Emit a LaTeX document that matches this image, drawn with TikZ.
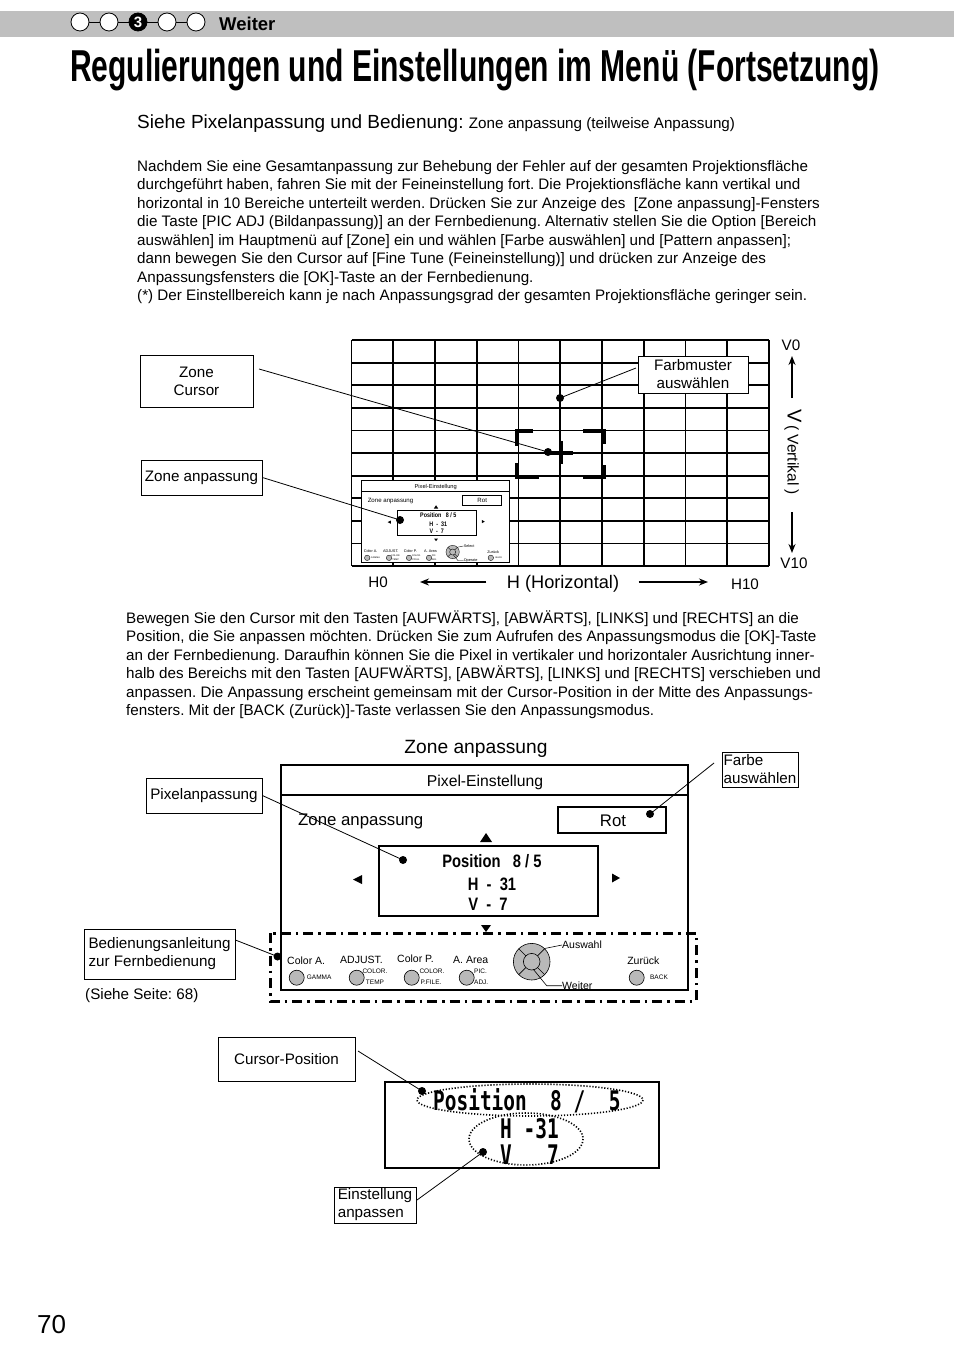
\documentclass[tikz,border=0pt]{standalone}
\usepackage{fontspec}
\usepackage{graphicx}
\setmainfont{Liberation Sans}
\newfontfamily\monof{DejaVu Sans Mono}
\usetikzlibrary{arrows.meta}
\frenchspacing

\newcommand\fs[1]{\fontsize{#1}{#1}\selectfont}
\newcommand\nb[1]{\scalebox{0.82}[1]{\fs{18}\bfseries #1}}
\newcommand\mono[1]{\scalebox{0.72}[1]{\fs{27}\monof\bfseries #1}}

\newcommand\menubody[3]{%
  \draw[mthick] (0,0) rectangle (407,225);
  \draw[mthick] (0,30) -- (407,30);
  \node[font=\fs{15.7}] (#1title) at (204,17) {Pixel-Einstellung};
  \node[anchor=base west, inner sep=0, font=\fs{16.8}] (#1zone) at (17,60) {Zone anpassung};
  \draw[mmid] (277,42) rectangle (385,68);
  \node[font=\fs{16.8}] (#1rot) at (332,56) {Rot};
  \fill (199,77) -- (211,77) -- (205,68) -- cycle;
  \draw[mmid] (98,81) rectangle (317,151);
  \node[anchor=base, inner sep=0] (#1pa) at (211,102.5) {\nb{Position\ \ \ 8 / 5}};
  \node[anchor=base, inner sep=0] (#1pb) at (211,125.5) {\nb{H\ \ -\ \ 31}};
  \node[anchor=base, inner sep=0] (#1pc) at (207,145.5) {\nb{V\ \ -\ \ 7}};
  \fill (72,114.5) -- (81,110) -- (81,119) -- cycle;
  \fill (339,113) -- (331,108.5) -- (331,117.5) -- cycle;
  \fill (200,160) -- (210,160) -- (205,167) -- cycle;
  \node[anchor=base west, inner sep=0, font=\fs{10.5}] (#1la) at (6,199) {Color A.};
  \node[anchor=base west, inner sep=0, font=\fs{10.5}] (#1lb) at (59,198.5) {ADJUST.};
  \node[anchor=base west, inner sep=0, font=\fs{10.5}] (#1lc) at (116,197.5) {Color P.};
  \node[anchor=base west, inner sep=0, font=\fs{10.5}] (#1ld) at (172,198.5) {A. Area};
  \filldraw[fill=gray!55, mthin] (15.7,212.7) circle (7.5);
  \filldraw[fill=gray!55, mthin] (75.7,212.7) circle (7.5);
  \filldraw[fill=gray!55, mthin] (130.7,212.7) circle (7.5);
  \filldraw[fill=gray!55, mthin] (185.7,212.7) circle (7.5);
  \filldraw[fill=gray!55, mthin] (355.7,212.7) circle (7.5);
  \node[anchor=west, inner sep=0, font=\fs{6.5}] (#1sa) at (25.7,212.7) {GAMMA};
  \node[inner sep=0, font=\fs{6.5}] (#1sb) at (94,206.7) {COLOR.};
  \node[inner sep=0, font=\fs{6.5}] (#1sc) at (94,217.5) {TEMP};
  \node[inner sep=0, font=\fs{6.5}] (#1sd) at (151,206.7) {COLOR.};
  \node[inner sep=0, font=\fs{6.5}] (#1se) at (150,217.5) {P.FILE.};
  \node[anchor=west, inner sep=0, font=\fs{6.5}] (#1sf) at (193,206.7) {PIC.};
  \node[anchor=west, inner sep=0, font=\fs{6.5}] (#1sg) at (193,217.5) {ADJ.};
  \filldraw[fill=gray!55, mthin] (250.7,196.7) circle (18.3);
  \draw[mthin] (250.7,196.7) circle (8.3);
  \draw[mthin] (250.7,196.7) ++(45:8.3) -- ++(45:10);
  \draw[mthin] (250.7,196.7) ++(135:8.3) -- ++(135:10);
  \draw[mthin] (250.7,196.7) ++(225:8.3) -- ++(225:10);
  \draw[mthin] (250.7,196.7) ++(315:8.3) -- ++(315:10);
  \node[anchor=west, inner sep=0, font=\fs{10.5}] (#1sel) at (281,180) {#2};
  \node[anchor=west, inner sep=0, font=\fs{10.5}] (#1op) at (281,220.7) {#3};
  \draw[mthin] (263.5,183.5) -- (#1sel.west);
  \draw[mthin] (252.3,204.3) -- (265.7,220.7) -- (#1op.west);
  \node[inner sep=0, font=\fs{10.5}] (#1zu) at (362.3,196) {Zurück};
  \node[inner sep=0, font=\fs{6.5}] (#1bk) at (378,212) {BACK};
}

\tikzset{
  lbl/.style={draw, line width=0.8pt, inner sep=1pt, font=\fontsize{15.2}{18}\selectfont, align=center},
  conn/.style={line width=0.8pt},
  body/.style={anchor=base west, inner sep=0, font=\fs{15.2}},
  gridl/.style={line width=1.8pt},
  mthick/.style={line width=2pt},
  mmid/.style={line width=1.6pt},
  mthin/.style={line width=0.6pt},
}

\begin{document}
\begin{tikzpicture}[x=1pt,y=-1pt]
\useasboundingbox (0,0) rectangle (954,1356);
\fill[white] (0,0) rectangle (954,1356);

% header bar
\fill[gray!50] (0,11) rectangle (954,37);
\draw[line width=0.8pt] (80,22) -- (196,22);
\filldraw[fill=white, line width=0.8pt] (80,22) circle (9);
\filldraw[fill=white, line width=0.8pt] (109,22) circle (9);
\filldraw[fill=black, line width=0.8pt] (138,22) circle (9);
\filldraw[fill=white, line width=0.8pt] (167,22) circle (9);
\filldraw[fill=white, line width=0.8pt] (196,22) circle (9);
\node[text=white, font=\fs{15}\bfseries, inner sep=0] (hnum) at (138,22.5) {3};
\node[anchor=base west, inner sep=0, font=\fs{18.5}\bfseries] (hweiter) at (219,30.5) {Weiter};

% title
\node[anchor=base west, inner sep=0] (title) at (70,82) {\scalebox{0.672}[1]{\fs{44.7}\bfseries Regulierungen und Einstellungen im Menü (Fortsetzung)}};

% subheading
\node[anchor=base west, inner sep=0] (sub) at (137,128.5) {{\fs{19}Siehe Pixelanpassung und Bedienung:\ }{\fs{15.2}Zone anpassung (teilweise Anpassung)}};

% paragraph 1
\node[body] (pa1) at (137,171.5) {Nachdem Sie eine Gesamtanpassung zur Behebung der Fehler auf der gesamten Projektionsfläche};
\node[body] (pa2) at (137,189.9) {durchgeführt haben, fahren Sie mit der Feineinstellung fort. Die Projektionsfläche kann vertikal und};
\node[body] (pa3) at (137,208.4) {horizontal in 10 Bereiche unterteilt werden. Drücken Sie zur Anzeige des\ \ [Zone anpassung]-Fensters};
\node[body] (pa4) at (137,226.8) {die Taste [PIC ADJ (Bildanpassung)] an der Fernbedienung. Alternativ stellen Sie die Option [Bereich};
\node[body] (pa5) at (137,245.3) {auswählen] im Hauptmenü auf [Zone] ein und wählen [Farbe auswählen] und [Pattern anpassen];};
\node[body] (pa6) at (137,263.7) {dann bewegen Sie den Cursor auf [Fine Tune (Feineinstellung)] und drücken zur Anzeige des};
\node[body] (pa7) at (137,282.2) {Anpassungsfensters die [OK]-Taste an der Fernbedienung.};
\node[body] (pa8) at (137,300.6) {(*) Der Einstellbereich kann je nach Anpassungsgrad der gesamten Projektionsfläche geringer sein.};

% grid
\foreach \i in {0,...,10} {
  \draw[gridl] (351.5+41.75*\i,340) -- (351.5+41.75*\i,566);
  \draw[gridl] (351.5,340+22.6*\i) -- (769,340+22.6*\i);
}
% cursor
\draw[line width=4pt] (533,431) -- (517,431) -- (517,446);
\draw[line width=4pt] (517,463) -- (517,477) -- (539,477);
\draw[line width=4pt] (583,431) -- (604,431) -- (604,444);
\draw[line width=4pt] (604,465) -- (604,477) -- (583,477);
\draw[line width=4pt] (549,452.5) -- (573,452.5);
\draw[line width=4pt] (561,441) -- (561,464);

% small menu
\begin{scope}[shift={(361.5,480.5)}, scale=0.3636, transform shape,
  mthick/.style={line width=1pt}, mmid/.style={line width=0.7pt}, mthin/.style={line width=0.35pt}]
  \fill[white] (0,0) rectangle (407,225);
  \menubody{s}{Select}{Operate}
\end{scope}

% axis labels
\node[font=\fs{15.2}] (h0) at (378,582) {H0};
\node[font=\fs{18.2}] (hh) at (563,584) {H (Horizontal)};
\node[font=\fs{15.2}] (h10) at (745,584) {H10};
\draw[line width=2pt, -{Stealth[length=9pt,width=7pt]}] (hh.west) ++(-17,-2) coordinate (hl) -- (420,582);
\draw[line width=2pt, -{Stealth[length=9pt,width=7pt]}] (hh.east) ++(16,-2) coordinate (hr) -- (708,582);
\node[font=\fs{15.2}] (v0) at (791,345) {V0};
\node[font=\fs{15.2}] (v10) at (794,563) {V10};
\node[rotate=-90, inner sep=0] (vv) at (793,452) {{\fs{20}V} {\fs{15.5}( Vertikal )}};
\draw[line width=2pt, -{Stealth[length=9pt,width=7pt]}] (792,398) coordinate (vu) -- (792,356);
\draw[line width=2pt, -{Stealth[length=9pt,width=7pt]}] (792,512) coordinate (vd) -- (792,553);

% labels top figure
\node[lbl, minimum width=113pt, minimum height=52pt] (zc) at (196.5,381) {Zone\\Cursor};
\node[lbl, minimum width=121pt, minimum height=35pt] (za) at (201.5,477.5) {Zone anpassung};
\node[lbl, fill=white, minimum width=110pt, minimum height=37pt] (fm) at (693,374.5) {Farbmuster\\auswählen};
\coordinate (zcs) at (259,369);
\coordinate (zcd) at (548,452);
\coordinate (fmd) at (560,398);
\coordinate (fme) at (636,368);
\coordinate (zad) at (400,520);
\draw[conn] (zcs) -- (zcd);
\fill (zcd) circle (4);
\draw[conn] (fmd) -- (fme);
\fill (fmd) circle (4);
\draw[conn] (za.east) -- (zad);
\fill (zad) circle (4);

% paragraph 2
\node[body] (pb1) at (126,623.5) {Bewegen Sie den Cursor mit den Tasten [AUFWÄRTS], [ABWÄRTS], [LINKS] und [RECHTS] an die};
\node[body] (pb2) at (126,641.9) {Position, die Sie anpassen möchten. Drücken Sie zum Aufrufen des Anpassungsmodus die [OK]-Taste};
\node[body] (pb3) at (126,660.4) {an der Fernbedienung. Daraufhin können Sie die Pixel in vertikaler und horizontaler Ausrichtung inner-};
\node[body] (pb4) at (126,678.8) {halb des Bereichs mit den Tasten [AUFWÄRTS], [ABWÄRTS], [LINKS] und [RECHTS] verschieben und};
\node[body] (pb5) at (126,697.3) {anpassen. Die Anpassung erscheint gemeinsam mit der Cursor-Position in der Mitte des Anpassungs-};
\node[body] (pb6) at (126,715.7) {fensters. Mit der [BACK (Zurück)]-Taste verlassen Sie den Anpassungsmodus.};

% big menu
\node[font=\fs{19.2}] (mtitle) at (476,749) {Zone anpassung};
\begin{scope}[shift={(281,765)}]
  \menubody{b}{Auswahl}{Weiter}
\end{scope}
\draw[line width=3pt, dash pattern=on 10pt off 5pt on 2.5pt off 5pt] (270,933) rectangle (696,1001);

\node[lbl, minimum width=116pt, minimum height=35pt] (pxa) at (204,795.5) {Pixelanpassung};
\node[lbl, align=left, minimum width=76pt, minimum height=35pt, inner sep=0.5pt] (fa) at (760,769.5) {Farbe\\auswählen};
\node[lbl, align=left, minimum width=151pt, minimum height=50pt] (bd) at (159.5,954) {Bedienungsanleitung\\zur Fernbedienung};
\node[anchor=base west, inner sep=0, font=\fs{15.2}] (seite) at (85,999) {(Siehe Seite: 68)};
\coordinate (pxd) at (403,860);
\coordinate (fad) at (650,814);
\coordinate (fae) at (714,763);
\coordinate (bdd) at (277.5,956.5);
\draw[conn] (pxa.east) -- (pxd);
\fill (pxd) circle (4);
\draw[conn] (fad) -- (fae);
\fill (fad) circle (4);
\draw[conn] (bd.east) ++(0,-14) coordinate (bds) -- (bdd);
\fill (bdd) circle (4);

% bottom figure
\node[lbl, minimum width=137pt, minimum height=44pt] (cp) at (286.5,1059) {Cursor-Position};
\node[lbl, align=left, minimum width=82pt, minimum height=36pt] (ea) at (375,1205) {Einstellung\\anpassen};
\node[draw, line width=2pt, minimum width=274pt, minimum height=86pt, inner sep=0] (pbox) at (522,1125) {};
\node[anchor=base west, inner sep=0] (m1) at (433,1110) {\mono{Position\ \ 8\ /\ \ 5}};
\node[anchor=base west, inner sep=0] (m2) at (500,1138) {\mono{H\ -31}};
\node[anchor=base west, inner sep=0] (m3) at (500,1164) {\mono{V\ \ \ 7}};
\draw[line width=1.6pt, dash pattern=on 1.2pt off 1.8pt] (530,1100) ellipse [x radius=113, y radius=16];
\draw[line width=1.6pt, dash pattern=on 1.2pt off 1.8pt] (526,1139) ellipse [x radius=57, y radius=26];
\coordinate (cps) at (358,1051);
\coordinate (cpd) at (422,1091);
\coordinate (ead) at (483,1152);
\coordinate (eas) at (417,1200);
\draw[conn] (cps) -- (cpd);
\fill (cpd) circle (4);
\draw[conn] (eas) -- (ead);
\fill (ead) circle (4);

% page number
\node[anchor=base west, inner sep=0, font=\fs{26}] (pg) at (37,1333) {70};
\end{tikzpicture}
\end{document}
